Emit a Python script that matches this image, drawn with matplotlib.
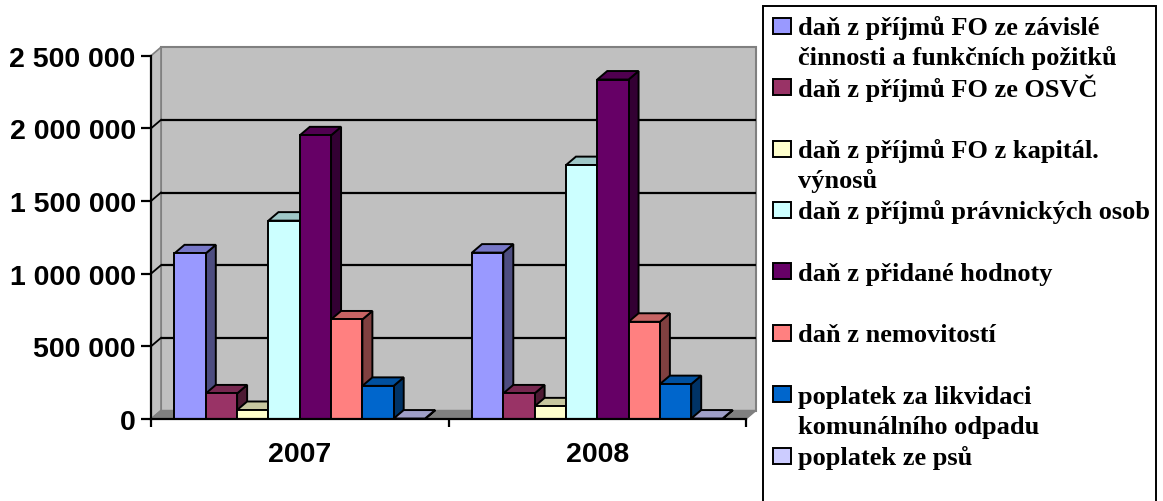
import matplotlib
matplotlib.use('Agg')
import matplotlib.pyplot as plt
from matplotlib.patches import Polygon, Rectangle
import matplotlib.colors as mcolors
import numpy as np

# ---------------- data ----------------
years = ['2007', '2008']
series = [
    'daň z příjmů FO ze závislé\nčinnosti a funkčních požitků',
    'daň z příjmů FO ze OSVČ',
    'daň z příjmů FO z kapitál.\nvýnosů',
    'daň z příjmů právnických osob',
    'daň z přidané hodnoty',
    'daň z nemovitostí',
    'poplatek za likvidaci\nkomunálního odpadu',
    'poplatek ze psů',
]
v2007 = [1140000, 176000, 62000, 1365000, 1952000, 685000, 228000, 3000]
v2008 = [1145000, 176000, 87000, 1747000, 2336000, 669000, 240000, 3000]
values = [v2007, v2008]
colors = ['#9999FF', '#993366', '#FFFFCC', '#CCFFFF',
          '#660066', '#FF8080', '#0066CC', '#CCCCFF']
yticks = [0, 500000, 1000000, 1500000, 2000000, 2500000]
ytick_labels = [f"{v:,}".replace(',', ' ') for v in yticks]

# ---------------- layout (pixels) ----------------
W, H, DPI = 1163, 502, 100
AX_L, AX_R_FRONT = 151, 746
DEPTH_X, DEPTH_Y = 10, 8.5
Y0_PX, YTOP_PX = 420, 56.7
ppx = (AX_R_FRONT - AX_L) / len(years)          # px per category
ppv = (Y0_PX - YTOP_PX) / yticks[-1]            # px per value unit
dx = DEPTH_X / ppx
dy = DEPTH_Y / ppv
AX_R = AX_R_FRONT + DEPTH_X
AX_TOP = YTOP_PX - DEPTH_Y

fig = plt.figure(figsize=(W / DPI, H / DPI), dpi=DPI)
ax = fig.add_axes([AX_L / W, 1 - Y0_PX / H, (AX_R - AX_L) / W, (Y0_PX - AX_TOP) / H])
ax.set_xlim(0, (AX_R - AX_L) / ppx)
ax.set_ylim(0, (Y0_PX - AX_TOP) / ppv)
ax.patch.set_visible(False)

ncat = len(years)
ymax = yticks[-1]
# walls and floor
ax.add_patch(Rectangle((dx, dy), ncat, ymax, facecolor='#C0C0C0',
                       edgecolor='#808080', lw=1.5, zorder=0.5, clip_on=False))
ax.add_patch(Polygon([(0, 0), (dx, dy), (dx, ymax + dy), (0, ymax)], closed=True,
                     facecolor='#C0C0C0', edgecolor='#808080', lw=1.2, zorder=0.6, clip_on=False))
ax.add_patch(Polygon([(0, 0), (ncat, 0), (ncat + dx, dy), (dx, dy)], closed=True,
                     facecolor='#808080', edgecolor='#808080', lw=1.0, zorder=0.7, clip_on=False))
for v in yticks[1:-1]:
    ax.plot([dx, ncat + dx], [v + dy, v + dy], color='black', lw=1.6, zorder=1, solid_capstyle='butt')
    ax.plot([0, dx], [v, v + dy], color='black', lw=1.3, zorder=1)

# bars
nser = len(series)
w = 1.0 / (nser + 1.5)
k = 0
for i, vals in enumerate(values):
    for j, v in enumerate(vals):
        xc = i + 0.5 + (j - (nser - 1) / 2) * w
        base = mcolors.to_rgb(colors[j])
        side = tuple(c * 0.5 for c in base)
        top = tuple(c * 0.78 for c in base)
        z = 3 + k * 0.1
        xl, xr = xc - w / 2, xc + w / 2
        ax.add_patch(Polygon([(xr, 0), (xr + dx, dy), (xr + dx, v + dy), (xr, v)], closed=True,
                             facecolor=side, edgecolor='black', lw=1.4, zorder=z, joinstyle='miter'))
        ax.add_patch(Polygon([(xl, v), (xr, v), (xr + dx, v + dy), (xl + dx, v + dy)], closed=True,
                             facecolor=top, edgecolor='black', lw=1.4, zorder=z + 0.01, joinstyle='miter'))
        ax.bar(xc, v, width=w, color=colors[j], edgecolor='black', lw=1.4, zorder=z + 0.02)
        k += 1

# axes styling
for s in ['top', 'right']:
    ax.spines[s].set_visible(False)
ax.spines['left'].set_linewidth(1.6)
ax.spines['bottom'].set_linewidth(1.6)
ax.spines['left'].set_bounds(0, ymax)
ax.spines['bottom'].set_bounds(0, ncat)
ax.spines['left'].set_zorder(5)
ax.spines['bottom'].set_zorder(5)

lab_font = dict(family='Liberation Sans', weight='bold', size=20.5)
ax.set_yticks(yticks)
ax.set_yticklabels(ytick_labels, **lab_font)
ax.tick_params(axis='y', direction='out', length=7, width=1.6, pad=4)
ax.set_xticks(range(ncat + 1))
ax.set_xticklabels([''] * (ncat + 1))
ax.set_xticks([i + 0.5 for i in range(ncat)], minor=True)
ax.set_xticklabels(years, minor=True, **lab_font)
ax.tick_params(axis='x', which='major', direction='out', length=6, width=1.6)
ax.tick_params(axis='x', which='minor', length=0, pad=16)

# legend (manual, Excel style)
def fx(px):
    return px / W

def fy(py):
    return 1 - py / H

fig.patches.append(Rectangle((fx(763), fy(512)), fx(1156) - fx(763), fy(6.7) - fy(512),
                             transform=fig.transFigure, facecolor='white',
                             edgecolor='black', lw=1.4, zorder=1))
leg_font = dict(family='Liberation Serif', weight='bold', size=19)
for idx, name in enumerate(series):
    cy = 26.7 + idx * 61.4
    fig.patches.append(Rectangle((fx(773), fy(cy + 8)), fx(791) - fx(773), fy(cy - 8) - fy(cy + 8),
                                 transform=fig.transFigure, facecolor=colors[idx],
                                 edgecolor='black', lw=1.4, zorder=2))
    for li, line in enumerate(name.split('\n')):
        fig.text(fx(797.5), fy(cy + 8.5 + li * 30), line, ha='left', va='baseline', **leg_font)

fig.savefig('out.png', dpi=DPI)
